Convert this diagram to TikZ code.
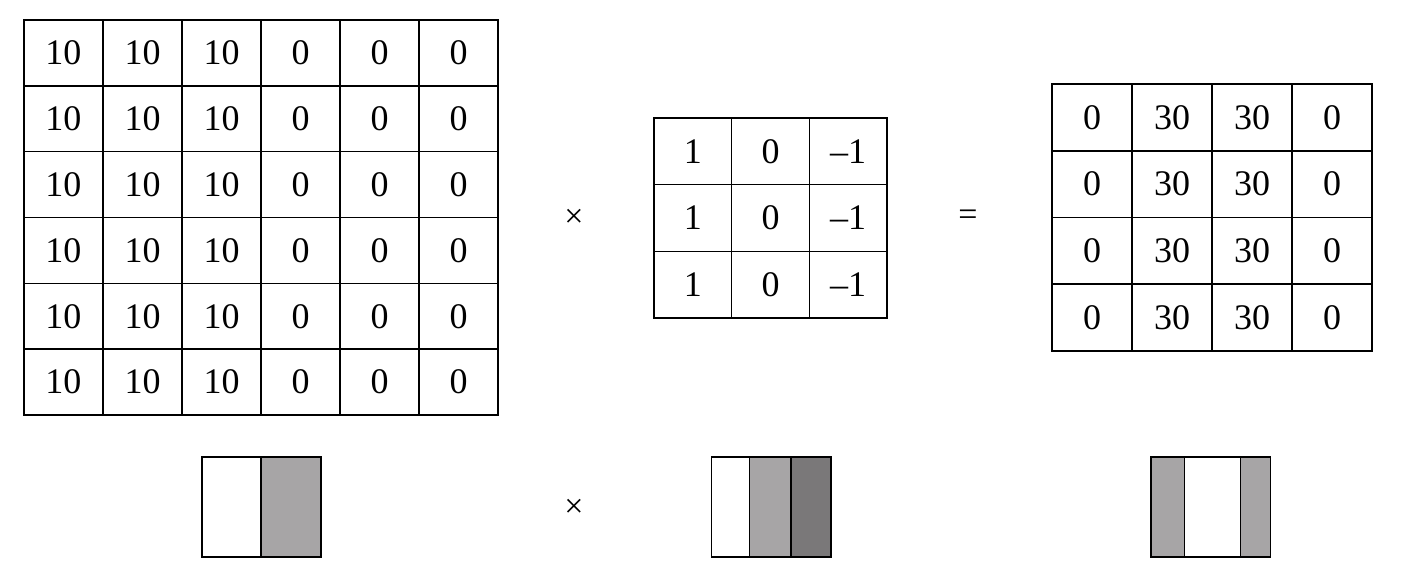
\documentclass[tikz,border=0pt]{standalone}
\usepackage{fontspec}
\setmainfont{Liberation Serif}
\usepackage{xcolor}
\usetikzlibrary{positioning}

\definecolor{lightgrey}{HTML}{A7A5A6}
\definecolor{darkgrey}{HTML}{7A7879}

\begin{document}
\begin{tikzpicture}[x=0.5pt,y=-0.5pt,
    cell/.style={draw,line width=0.75pt,inner sep=0pt,font=\fontsize{18}{21}\selectfont},
    strip/.style={draw,line width=0.75pt,inner sep=0pt,minimum height=50pt}]
      \useasboundingbox (0,0) rectangle (1404,577);
      % input image
      \foreach \r in {1,...,6}
        \foreach \c/\v in {1/10,2/10,3/10,4/0,5/0,6/0}
          \node[cell,minimum width=39.5pt,minimum height=32.9pt] (in-\r-\c)
            at ({24+(\c-0.5)*79},{20+(\r-0.5)*65.83}) {\v};
      % filter
      \foreach \r in {1,2,3}
        \foreach \c/\v in {1/1,2/0,3/–1}
          \node[cell,minimum width=38.8pt,minimum height=33.3pt] (k-\r-\c)
            at ({654+(\c-0.5)*77.67},{118+(\r-0.5)*66.67}) {\v};
      % output
      \foreach \r in {1,...,4}
        \foreach \c/\v in {1/0,2/30,3/30,4/0}
          \node[cell,minimum width=40pt,minimum height=33.4pt] (out-\r-\c)
            at ({1052+(\c-0.5)*80},{84+(\r-0.5)*66.75}) {\v};
      \node[font=\fontsize{17}{20}\selectfont] (times-top) at (574,218) {×};
      \node[font=\fontsize{17}{20}\selectfont] (equals) at (968,218) {=};
      \node[font=\fontsize{17}{20}\selectfont] (times-bot) at (574,508) {×};
      % shaded versions
      \node[strip,minimum width=29.5pt,fill=white] (img-a) at (231.5,507) {};
      \node[strip,minimum width=30pt,fill=lightgrey] (img-b) at (291,507) {};
      \node[strip,minimum width=18.8pt,fill=white] (flt-a) at (730.5,507) {};
      \node[strip,minimum width=20.7pt,fill=lightgrey] (flt-b) at (770,507) {};
      \node[strip,minimum width=20pt,fill=darkgrey] (flt-c) at (811,507) {};
      \node[strip,minimum width=16.7pt,fill=lightgrey] (res-a) at (1167.7,507) {};
      \node[strip,minimum width=28pt,fill=white] (res-b) at (1212.3,507) {};
      \node[strip,minimum width=15.2pt,fill=lightgrey] (res-c) at (1255.5,507) {};
\end{tikzpicture}
\end{document}
